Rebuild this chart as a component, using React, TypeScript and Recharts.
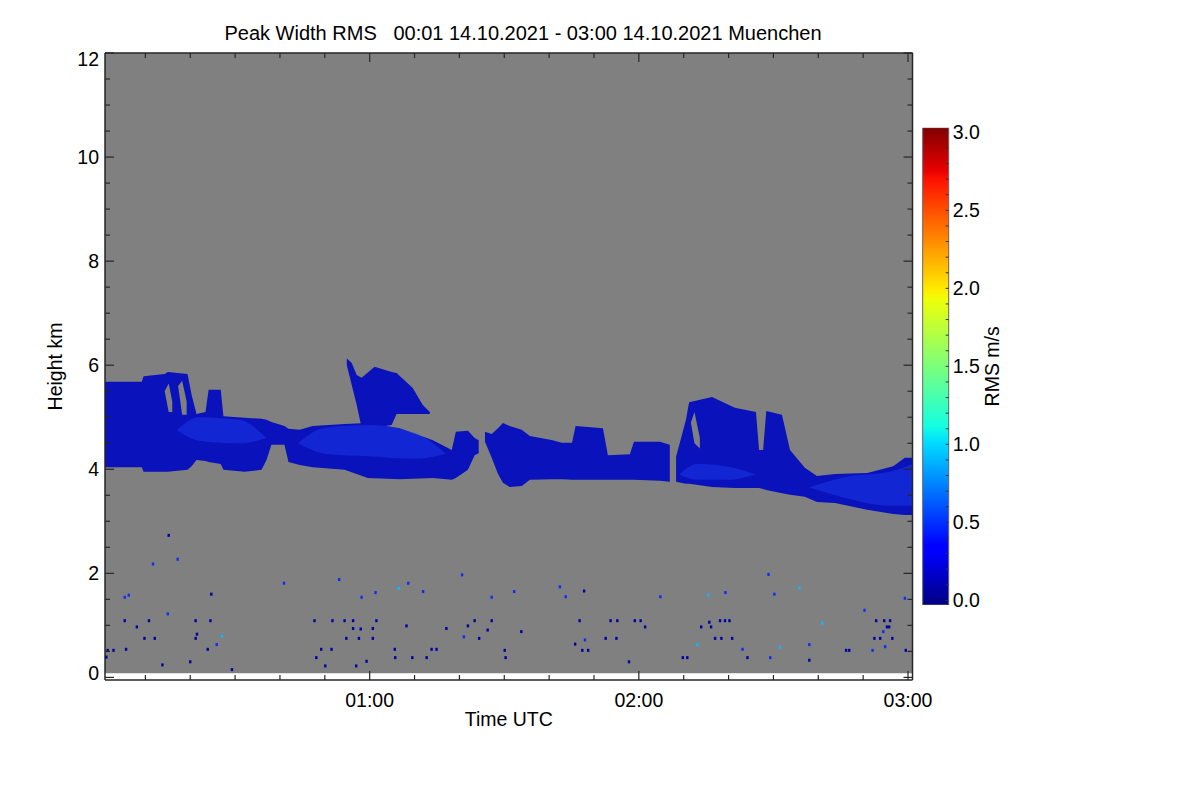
import React from 'react';
import { Area, Bar, BarChart, ComposedChart, Label, Scatter, XAxis, YAxis } from 'recharts';

const FONT = '"Liberation Sans", Arial, Helvetica, sans-serif';
const AXIS = '#262626';
const GRAY = '#808080';

// time = minutes after 00:00 UTC, heights in km; null marks a gap
const bandTime = [
  1, 9.2, 9.6, 14.3, 15, 19.4, 20.3, 21.4, 23.4, 24.1, 26.8, 27.4, 32.1, 35.9, 37, 38.1, 41, 41.9,
  44.4, 47.3, 54.4, 59.6, 66.7, 74.1, 78.3, 79.2, 81.9, 83.4, 84.3, 84.8, 85.7, 87.2, 88.6, 89.7,
  91.2, 93.9, 95.7, 100.8, 102.8, 105.1, 105.9, 112, 113.1, 118, 118.9, 124.7, 126.9, 127.4, 128.3,
  130.5, 131.2, 136.3, 141.4, 146.1, 146.8, 147.7, 148.4, 151.9, 153.7, 157, 159.7, 163.7, 170.9,
  176.7, 179.3, 181,
];
const bandBase = [
  4.04, 4.04, 3.95, 3.95, 3.95, 3.99, 4.06, 4.18, 4.16, 4.14, 4.1, 3.99, 3.95, 3.99, 4.18, 4.47, 4.47, 4.14,
  4.08, 4.04, 3.99, 3.83, 3.81, 3.83, 3.8, 3.83, 3.99, 4.27, 4.31, null, 4.53, 4.22, 3.91, 3.74,
  3.66, 3.68, 3.8, 3.81, 3.81, 3.8, 3.8, 3.8, 3.8, 3.8, 3.8, 3.78, 3.76, null, 3.76,
  3.72, 3.72, 3.66, 3.64, 3.64, 3.64, 3.62, 3.6, 3.54, 3.51, 3.47, 3.37, 3.35, 3.22,
  3.14, 3.12, 3.12,
];
const bandTop = [
  5.68, 5.68, 5.79, 5.83, 5.87, 5.83, 5.43, 5.06, 5.1, 5.53, 5.53, 5.02, 4.99, 4.97, 4.95, 4.91, 4.83, 4.78,
  4.76, 4.83, 4.87, 4.89, 4.79, 4.56, 4.37, 4.72, 4.74, 4.6, 4.56, null, 4.72, 4.68, 4.79, 4.89,
  4.83, 4.76, 4.64, 4.56, 4.51, 4.51, 4.83, 4.79, 4.27, 4.29, 4.53, 4.53, 4.47, null, 4.24,
  4.95, 5.29, 5.39, 5.18, 5.1, 4.37, 4.37, 5.12, 5.05, 4.37, 4.03, 3.87, 3.91, 3.93,
  4.06, 4.22, 4.22,
];

// detached cloud patch above the band near 01:00
const blobTime = [54.9, 56, 57.1, 58.2, 61.1, 64.9, 66, 69.6, 71.8, 73.4];
const blobBase = [6.0, 5.62, 5.24, 4.8, 4.8, 4.85, 5.06, 5.06, 5.06, 5.06];
const blobTop = [6.13, 6.04, 5.81, 5.76, 5.97, 5.87, 5.85, 5.56, 5.24, 5.1];

// brighter (higher RMS) parts inside the band
const coreTime = [17, 22, 31, 37, 37.5, 44, 50, 60, 70, 77, 77.5, 129, 133, 140, 146, 150, 158, 166, 176, 181];
const coreBase = [4.75, 4.55, 4.5, 4.6, null, 4.5, 4.3, 4.25, 4.2, 4.3, null, 3.9, 3.8, 3.8, 3.9, null, 3.65, 3.45, 3.3, 3.3];
const coreTop = [4.75, 5.0, 4.95, 4.6, null, 4.5, 4.8, 4.85, 4.7, 4.3, null, 3.9, 4.1, 4.05, 3.9, null, 3.65, 3.85, 3.95, 4.1];

// empty slots between the fall streaks
const holeTime = [14.3, 15.2, 16, 16.2, 17.3, 18.2, 19.2, 19.4, 131.6, 132.4, 133.6];
const holeBase = [5.5, 5.1, 5.1, null, 5.6, 5.05, 5.05, null, 4.9, 4.5, 4.4];
const holeTop = [5.5, 5.65, 5.3, null, 5.6, 5.7, 5.3, null, 4.9, 5.1, 4.6];

// isolated pixels in the boundary layer; level 0 dark, 1 blue, 2 light blue
const noiseTime = [
  1.3, 1.6, 2.9, 5.4, 5.4, 5.7, 6.3, 8.1, 9.8, 10.8, 11.7, 12.1, 13.8, 15, 15.2, 17.2, 20, 21.2, 21.2,
  21.5, 23.9, 24.5, 24.7, 25.9, 27.1, 29.3, 40.9, 47.7, 48.1, 49.2, 50.1, 51.5, 51.7, 53.2, 54.4,
  54.8, 56.3, 56.3, 57, 57.6, 58, 58.2, 59.3, 60.7, 60.7, 61.3, 61.5, 65.6, 65.7, 66.5, 68.2, 68.6,
  69.5, 71.9, 72.7, 73.8, 74.9, 77.1, 80.6, 81, 81.9, 83.4, 84.4, 86.3, 87.2, 87.2, 90.1, 90.3, 92.2,
  93.8, 102.4, 103.7, 105.8, 106.8, 107.4, 107.8, 108, 108.7, 112.6, 113.7, 115, 115.2, 117.8, 119.1,
  120.4, 121.4, 124.8, 129.8, 130.8, 133, 133.9, 135.5, 135.7, 136.1, 137, 138.1, 138.4, 139.2,
  139.3, 140.2, 140.8, 143.1, 144.2, 148.9, 149.3, 150.2, 151.5, 155.8, 158, 158, 160.9, 166.2,
  166.9, 170.3, 172.1, 172.5, 172.9, 173.8, 174.5, 174.7, 174.9, 175.3, 175.8, 176, 176.5, 179.3, 179.5,
];
const noiseHeight = [
  0.39, 0.52, 0.52, 1.54, 1.09, 0.54, 1.58, 0.97, 0.75, 1.09, 2.18, 0.75, 0.24, 1.22, 2.73, 2.27, 0.3, 1.09, 0.75,
  0.83, 0.54, 1.09, 1.6, 0.63, 0.79, 0.15, 1.81, 1.09, 0.38, 0.54, 0.22, 0.54, 1.09, 1.88, 1.09,
  0.75, 1.09, 0.94, 0.22, 0.75, 0.93, 1.54, 0.31, 0.75, 0.94, 1.63, 1.09, 0.54, 0.38, 1.71, 0.99, 1.81,
  0.38, 1.65, 0.38, 0.54, 0.54, 0.94, 1.97, 0.78, 0.99, 1.09, 0.75, 0.91, 1.54, 1.09, 0.52, 0.38, 1.65,
  0.88, 1.74, 1.55, 0.64, 1.09, 0.52, 1.66, 0.72, 0.52, 0.75, 1.09, 0.75, 1.09, 0.3, 1.09,
  1.09, 0.97, 1.55, 0.38, 0.38, 0.63, 0.97, 1.58, 1.06, 0.97, 0.75, 1.09, 0.75, 1.09,
  1.63, 1.09, 0.75, 0.54, 0.38, 1.98, 0.38, 1.6, 0.58, 1.72, 0.63, 0.33, 1.04, 0.52,
  0.52, 1.29, 0.52, 0.75, 1.09, 0.75, 0.88, 1.09, 0.59, 0.97, 0.97, 1.09, 0.75, 1.52, 0.52,
];
const noiseLevel = [
  0, 0, 0, 1, 0, 0, 1, 0, 0, 0, 1, 0, 0, 1, 0, 1, 0, 0, 0,
  0, 0, 0, 0, 1, 2, 0, 1, 0, 0, 0, 0, 0, 0, 1, 0,
  0, 0, 0, 0, 0, 0, 1, 0, 0, 0, 1, 0, 0, 0, 2, 0, 1,
  0, 1, 0, 0, 0, 0, 1, 1, 0, 0, 0, 0, 1, 0, 0, 0, 1,
  0, 1, 1, 0, 0, 0, 0, 1, 0, 0, 0, 0, 0, 0, 0,
  0, 0, 1, 0, 0, 2, 0, 2, 0, 0, 0, 0, 0, 0,
  1, 0, 0, 1, 0, 1, 1, 1, 2, 2, 1, 0, 2, 0,
  0, 1, 1, 0, 0, 0, 1, 0, 1, 0, 0, 0, 0, 1, 0,
];
const noiseColors = ['#0000a6', '#0a2cff', '#10b4ff'];

const xTicks = [10, 20, 30, 40, 50, 60, 70, 80, 90, 100, 110, 120, 130, 140, 150, 160, 170, 180];
const yTicks = [0, 0.5, 1, 1.5, 2, 2.5, 3, 3.5, 4, 4.5, 5, 5.5, 6, 6.5, 7, 7.5, 8, 8.5, 9, 9.5, 10, 10.5, 11, 11.5, 12];
const cbTicks = [
  0, 0.1, 0.2, 0.3, 0.4, 0.5, 0.6, 0.7, 0.8, 0.9, 1, 1.1, 1.2, 1.3, 1.4, 1.5, 1.6, 1.7, 1.8, 1.9, 2,
  2.1, 2.2, 2.3, 2.4, 2.5, 2.6, 2.7, 2.8, 2.9, 3,
];

const X_DOMAIN = [1, 181];
const Y_DOMAIN = [-0.05, 12];
const CB_DOMAIN = [-0.03, 3.03];

const toRange = (times: number[], lo: (number | null)[], hi: (number | null)[]) =>
  times.map((t, i) => ({ t, r: lo[i] === null ? null : [lo[i], hi[i]] }));

const bgData = [
  { t: 1, r: [0.08, 12] },
  { t: 181, r: [0.08, 12] },
];
const bandData = toRange(bandTime, bandBase, bandTop);
const blobData = toRange(blobTime, blobBase, blobTop);
const coreData = toRange(coreTime, coreBase, coreTop);
const holeData = toRange(holeTime, holeBase, holeTop);
const noiseData = noiseTime.map((t, i) => ({ t, h: noiseHeight[i], c: noiseLevel[i] }));
const cbData = [{ k: 'rms', r: CB_DOMAIN }];

const hhmm = (m: number) => `${String(Math.floor(m / 60)).padStart(2, '0')}:${String(m % 60).padStart(2, '0')}`;

const txt = { fontFamily: FONT, fontSize: 19.5, fill: '#000' };

function BottomTick({ x, y, payload }: any) {
  const major = payload.value % 60 === 0;
  return (
    <g>
      <line x1={x} x2={x} y1={y} y2={y - (major ? 9 : 5)} stroke={AXIS} strokeWidth={1.2} />
      {major && (
        <text x={x} y={y + 27} textAnchor="middle" {...txt}>
          {hhmm(payload.value)}
        </text>
      )}
    </g>
  );
}

function TopTick({ x, y, payload }: any) {
  const major = payload.value % 60 === 0;
  return <line x1={x} x2={x} y1={y} y2={y + (major ? 9 : 5)} stroke={AXIS} strokeWidth={1.2} />;
}

function LeftTick({ x, y, payload }: any) {
  const v = payload.value;
  const major = v % 2 === 0;
  const dy = v === 12 ? 13 : v === 0 ? 3 : 7;
  return (
    <g>
      <line x1={x} x2={x + (major ? 9 : 5)} y1={y} y2={y} stroke={AXIS} strokeWidth={1.2} />
      {major && (
        <text x={x - 6} y={y + dy} textAnchor="end" {...txt}>
          {v}
        </text>
      )}
    </g>
  );
}

function RightTick({ x, y, payload }: any) {
  const major = payload.value % 2 === 0;
  return <line x1={x} x2={x - (major ? 9 : 5)} y1={y} y2={y} stroke={AXIS} strokeWidth={1.2} />;
}

function BarTick({ x, y, payload }: any) {
  const v = payload.value;
  const major = Math.abs(v * 2 - Math.round(v * 2)) < 1e-6;
  return (
    <g>
      <line x1={x} x2={x - 3} y1={y} y2={y} stroke="#333" strokeWidth={1} />
      {major && (
        <text x={x + 4} y={y + 7} textAnchor="start" {...txt}>
          {v.toFixed(1)}
        </text>
      )}
    </g>
  );
}

function Pixel({ cx, cy, payload }: any) {
  return <rect x={cx - 1.2} y={cy - 1.5} width={2.4} height={3} fill={noiseColors[payload.c]} />;
}

export default function App() {
  return (
    <div style={{ position: 'relative', width: 1200, height: 800, background: '#fff', fontFamily: FONT }}>
      <style>{'body{margin:0}'}</style>
      <div
        style={{
          position: 'absolute',
          left: 0,
          top: 22,
          width: 1046,
          textAlign: 'center',
          fontSize: 20,
          lineHeight: '22px',
          whiteSpace: 'pre',
          color: '#000',
        }}
      >
        {'Peak Width RMS   00:01 14.10.2021 - 03:00 14.10.2021 Muenchen'}
      </div>

      <div style={{ position: 'absolute', left: 0, top: 0 }}>
        <ComposedChart width={1200} height={800} margin={{ top: 52, right: 286.5, bottom: 72, left: 45 }}>
          <XAxis
            type="number"
            dataKey="t"
            domain={X_DOMAIN}
            allowDataOverflow
            ticks={xTicks}
            interval={0}
            height={48}
            tickSize={0}
            tickMargin={0}
            tickLine={false}
            axisLine={{ stroke: AXIS, strokeWidth: 1.5 }}
            tick={<BottomTick />}
          >
            <Label value="Time UTC" position="insideBottom" offset={2} style={{ ...txt }} />
          </XAxis>
          <XAxis
            xAxisId="top"
            orientation="top"
            type="number"
            dataKey="t"
            domain={X_DOMAIN}
            allowDataOverflow
            ticks={xTicks}
            interval={0}
            height={1}
            tickSize={0}
            tickMargin={0}
            tickLine={false}
            axisLine={{ stroke: AXIS, strokeWidth: 1.5 }}
            tick={<TopTick />}
          />
          <YAxis
            type="number"
            domain={Y_DOMAIN}
            allowDataOverflow
            ticks={yTicks}
            interval={0}
            width={60}
            tickSize={0}
            tickMargin={0}
            tickLine={false}
            axisLine={{ stroke: AXIS, strokeWidth: 1.5 }}
            tick={<LeftTick />}
          >
            <Label
              value="Height km"
              angle={-90}
              position="insideLeft"
              offset={10}
              style={{ ...txt, textAnchor: 'middle' }}
            />
          </YAxis>
          <YAxis
            yAxisId="right"
            orientation="right"
            type="number"
            domain={Y_DOMAIN}
            allowDataOverflow
            ticks={yTicks}
            interval={0}
            width={1}
            tickSize={0}
            tickMargin={0}
            tickLine={false}
            axisLine={{ stroke: AXIS, strokeWidth: 1.5 }}
            tick={<RightTick />}
          />

          <Area data={bgData} dataKey="r" type="linear" fill={GRAY} fillOpacity={1} stroke="none" isAnimationActive={false} />
          <Area data={bandData} dataKey="r" type="linear" fill="#0a12bb" fillOpacity={1} stroke="none" isAnimationActive={false} />
          <Area data={blobData} dataKey="r" type="linear" fill="#0a12bb" fillOpacity={1} stroke="none" isAnimationActive={false} />
          <Area data={coreData} dataKey="r" type="monotone" fill="#1e40f5" fillOpacity={0.45} stroke="none" isAnimationActive={false} />
          <Area data={holeData} dataKey="r" type="linear" fill={GRAY} fillOpacity={1} stroke="none" isAnimationActive={false} />
          <Scatter data={noiseData} dataKey="h" shape={<Pixel />} isAnimationActive={false} />
        </ComposedChart>
      </div>

      <div style={{ position: 'absolute', left: 900, top: 0 }}>
        <BarChart
          width={130}
          height={800}
          data={cbData}
          margin={{ top: 127.7, right: 21.3, bottom: 195, left: 22.7 }}
          barCategoryGap={0}
        >
          <defs>
            <linearGradient id="jet" x1="0" y1="1" x2="0" y2="0">
              <stop offset="0" stopColor="rgb(0,0,128)" />
              <stop offset="0.11" stopColor="rgb(0,0,255)" />
              <stop offset="0.125" stopColor="rgb(0,0,255)" />
              <stop offset="0.34" stopColor="rgb(0,220,255)" />
              <stop offset="0.375" stopColor="rgb(20,255,226)" />
              <stop offset="0.5" stopColor="rgb(123,255,123)" />
              <stop offset="0.64" stopColor="rgb(238,255,8)" />
              <stop offset="0.66" stopColor="rgb(255,236,0)" />
              <stop offset="0.89" stopColor="rgb(255,19,0)" />
              <stop offset="0.91" stopColor="rgb(232,0,0)" />
              <stop offset="1" stopColor="rgb(128,0,0)" />
            </linearGradient>
          </defs>
          <XAxis dataKey="k" hide />
          <YAxis
            orientation="right"
            type="number"
            domain={CB_DOMAIN}
            allowDataOverflow
            ticks={cbTicks}
            interval={0}
            width={60}
            tickSize={0}
            tickMargin={0}
            tickLine={false}
            axisLine={false}
            tick={<BarTick />}
          >
            <Label
              value="RMS m/s"
              angle={-90}
              position="insideRight"
              offset={17}
              style={{ ...txt, textAnchor: 'middle' }}
            />
          </YAxis>
          <Bar dataKey="r" fill="url(#jet)" stroke="#666" strokeWidth={1} isAnimationActive={false} />
        </BarChart>
      </div>
    </div>
  );
}
